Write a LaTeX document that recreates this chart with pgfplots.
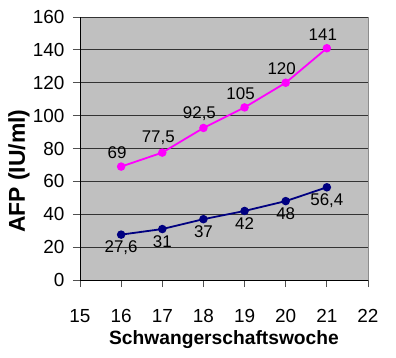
\documentclass[border=0pt]{standalone}
\usepackage{pgfplots}
\pgfplotsset{compat=1.18}
\usepackage{fontspec}
\setmainfont{Liberation Sans}
\definecolor{plotbg}{RGB}{192,192,192}
\definecolor{axgray}{RGB}{80,80,80}
\definecolor{magline}{RGB}{255,0,255}
\definecolor{navyline}{RGB}{0,0,128}
\begin{document}
\begin{tikzpicture}
\begin{axis}[
  at={(0,0)}, anchor=south west,
  width=288bp, height=263bp, scale only axis,
  xmin=15, xmax=22, ymin=0, ymax=160,
  xtick={15,16,...,22}, ytick={0,20,...,160},
  axis background/.style={fill=plotbg, draw=black!45, line width=0.6bp},
  axis x line*=bottom, axis y line*=left,
  axis line style={axgray, line width=0.9bp},
  every outer x axis line/.style={-}, every outer y axis line/.style={-},
  tick style={axgray, line width=0.9bp},
  tick align=outside,
  major tick length=7bp,
  ymajorgrids,
  grid style={black!80, line width=0.8bp},
  /pgf/number format/assume math mode=true,
  ticklabel style={font=\fontsize{19}{22}\selectfont},
  xticklabel style={yshift=-19bp},
  yticklabel style={xshift=-5bp},
  xlabel={\textbf{Schwangerschaftswoche}},
  ylabel={\textbf{AFP (IU/ml)}},
  xlabel style={font=\fontsize{19.3}{23}\selectfont, at={([yshift=-60bp]axis description cs:0.5,0)}, anchor=center},
  ylabel style={font=\fontsize{23}{27}\selectfont, at={([xshift=-61bp]axis description cs:0,0.414)}, anchor=center},
  nodes near coords, point meta=explicit symbolic,
  every node near coord/.style={font=\fontsize{17}{20}\selectfont, black},
  clip=false,
]
\addplot[magline, line width=1.8bp, mark=*, mark size=3.3bp, mark options={fill=magline, draw=magline},
  nodes near coords style={anchor=south, yshift=3.5bp, xshift=-4bp}]
  coordinates {(16,69) [69] (17,77.5) [77,5] (18,92.5) [92,5] (19,105) [105] (20,120) [120] (21,141) [141]};
\addplot[navyline, line width=1.8bp, mark=*, mark size=3.3bp, mark options={fill=navyline, draw=navyline},
  nodes near coords style={anchor=north, yshift=-2bp}]
  coordinates {(16,27.6) [27,6] (17,31) [31] (18,37) [37] (19,42) [42] (20,48) [48] (21,56.4) [56,4]};
\end{axis}
\pgfresetboundingbox
\path[use as bounding box] (-80bp,-78bp) rectangle (316bp,280bp);
\end{tikzpicture}
\end{document}
